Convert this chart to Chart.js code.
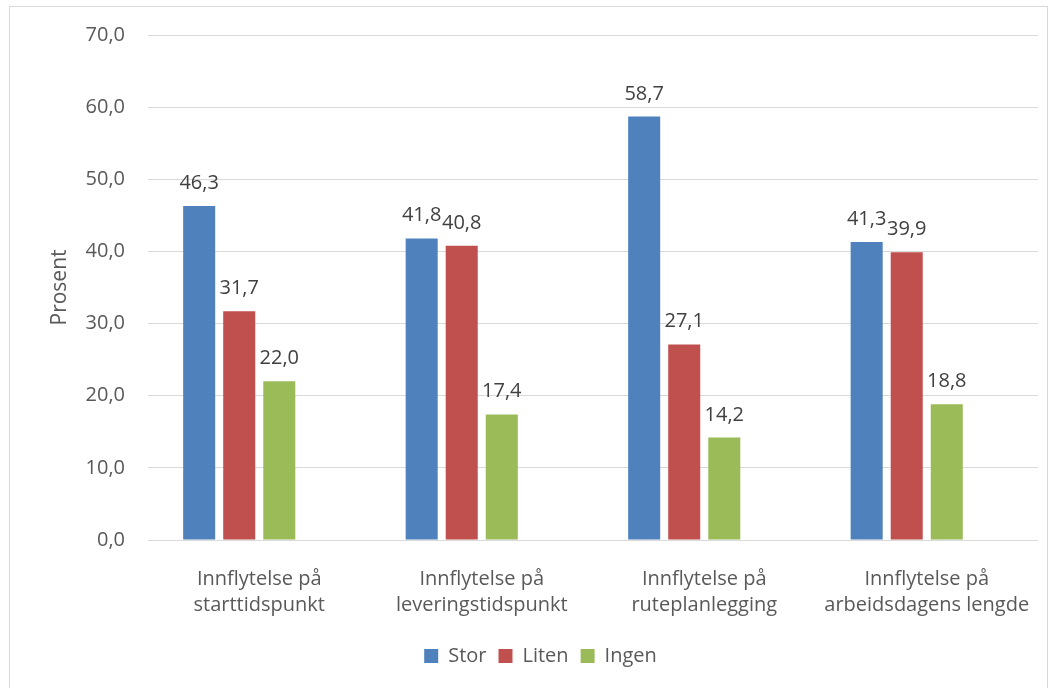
<!DOCTYPE html>
<html>
<head>
<meta charset="utf-8">
<script src="https://cdn.jsdelivr.net/npm/chart.js@4"></script>
<style>
  html, body { margin: 0; padding: 0; background: #fff; }
  #wrap { position: relative; width: 1053px; height: 688px; }
  #frame { position: absolute; left: 9px; top: 6px; width: 1039px; height: 690px; border: 1px solid #d9d9d9; box-sizing: border-box; }
  canvas { position: absolute; left: 0; top: 0; }
</style>
</head>
<body>
<div id="wrap">
  <div id="frame"></div>
  <canvas id="chart" width="1053" height="688"></canvas>
</div>
<script>
const categories = [
    ['Innflytelse på', 'starttidspunkt'],
    ['Innflytelse på', 'leveringstidspunkt'],
    ['Innflytelse på', 'ruteplanlegging'],
    ['Innflytelse på', 'arbeidsdagens lengde']
]
const stor = [46.3, 41.8, 58.7, 41.3]
const liten = [31.7, 40.8, 27.1, 39.9]
const ingen = [22.0, 17.4, 14.2, 18.8]
// tom serie i originalen, gir forskyvning av gruppene
const tom = [null, null, null, null]

const fontFamily = "'Open Sans', 'Liberation Sans', sans-serif"
const fmt = v => v.toFixed(1).replace('.', ',')

const dataLabels = {
    id: 'dataLabels',
    afterDatasetsDraw(chart) {
        const ctx = chart.ctx
        ctx.save()
        ctx.font = '20px ' + fontFamily
        ctx.fillStyle = '#404040'
        ctx.textAlign = 'center'
        ctx.textBaseline = 'alphabetic'
        chart.data.datasets.forEach((ds, i) => {
            const meta = chart.getDatasetMeta(i)
            meta.data.forEach((bar, j) => {
                const v = ds.data[j]
                if (v == null) return
                ctx.fillText(fmt(v), bar.x, bar.y - 17)
            })
        })
        ctx.restore()
    }
}

new Chart(document.getElementById('chart'), {
    type: 'bar',
    data: {
        labels: categories,
        datasets: [
            { label: 'Stor', data: stor, backgroundColor: '#4F81BD' },
            { label: 'Liten', data: liten, backgroundColor: '#C0504D' },
            { label: 'Ingen', data: ingen, backgroundColor: '#9BBB59' },
            { label: '', data: tom, backgroundColor: 'rgba(0,0,0,0)' }
        ]
    },
    options: {
        responsive: false,
        animation: false,
        datasets: {
            bar: { categoryPercentage: 0.72, barPercentage: 0.8 }
        },
        layout: { padding: { top: 31, right: 15, left: 43, bottom: 12 } },
        plugins: {
            tooltip: { enabled: false },
            legend: {
                position: 'bottom',
                labels: {
                    font: { family: fontFamily, size: 20 },
                    color: '#595959',
                    boxWidth: 14,
                    boxHeight: 14,
                    padding: 12,
                    filter: item => item.text !== ''
                }
            }
        },
        scales: {
            x: {
                grid: { display: false },
                border: { display: false },
                ticks: {
                    font: { family: fontFamily, size: 20, lineHeight: 1.3 },
                    color: '#595959',
                    padding: 18
                },
                afterFit(scale) { scale.height = 94 }
            },
            y: {
                min: 0,
                max: 70,
                ticks: {
                    stepSize: 10,
                    font: { family: fontFamily, size: 20 },
                    color: '#595959',
                    padding: 23,
                    callback: v => fmt(v)
                },
                grid: { color: '#d9d9d9', lineWidth: 1, drawTicks: false },
                border: { display: false },
                title: {
                    display: true,
                    text: 'Prosent',
                    font: { family: fontFamily, size: 21 },
                    color: '#595959'
                },
                afterFit(scale) { scale.width = 105 }
            }
        }
    },
    plugins: [dataLabels]
})
</script>
</body>
</html>
